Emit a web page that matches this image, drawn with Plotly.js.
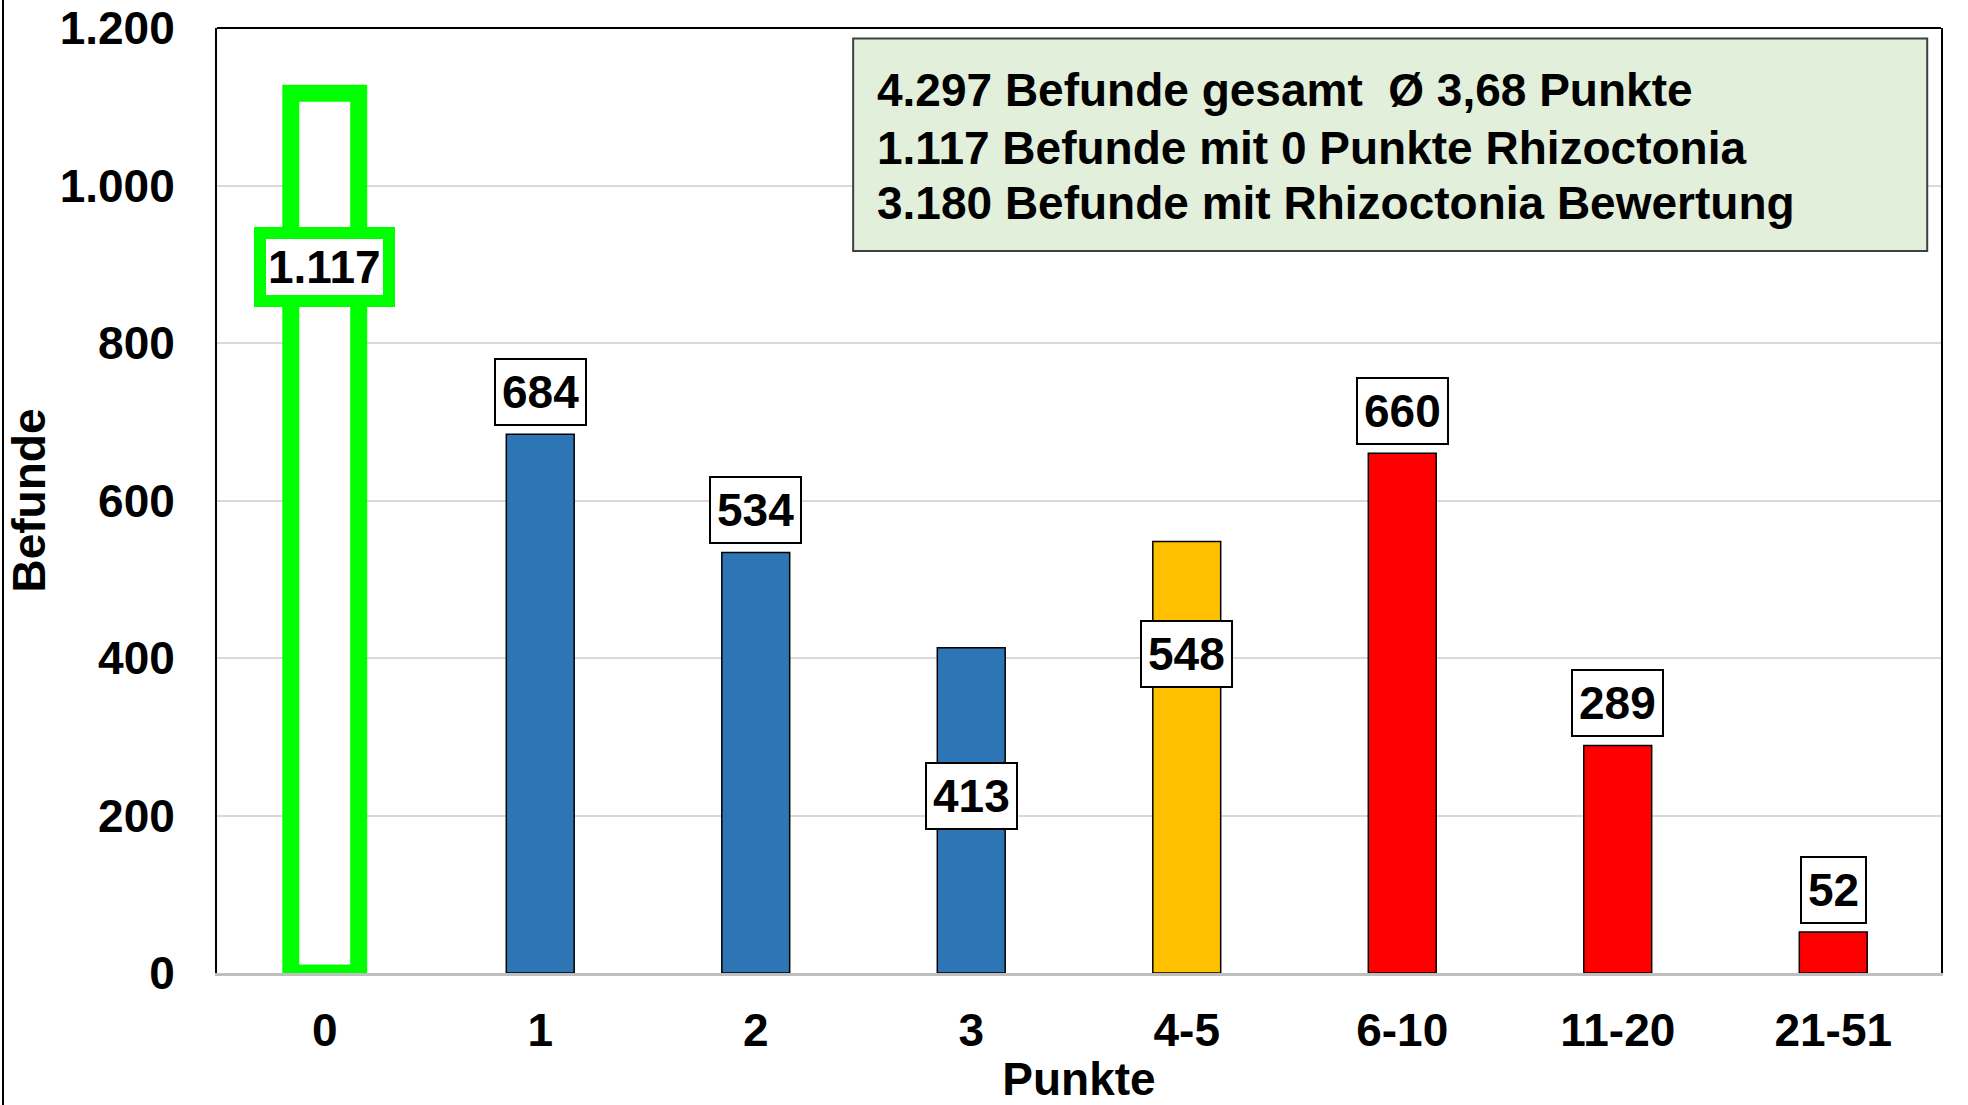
<!DOCTYPE html>
<html>
<head>
<meta charset="utf-8">
<script src="https://cdn.plot.ly/plotly-3.0.1.min.js"></script>
<style>
  html, body { margin: 0; padding: 0; background: #fff; }
  #wrap { position: relative; width: 1968px; height: 1105px; }
  #chart { width: 1968px; height: 1105px; }
  #edge { position: absolute; left: 2px; top: 0; width: 0; height: 1105px; border-left: 2px solid #000; }
</style>
</head>
<body>
<div id="wrap">
  <div id="chart"></div>
  <div id="edge"></div>
</div>
<script>
  // Rhizoctonia Befunde nach Punkten
  const categories = ["0", "1", "2", "3", "4-5", "6-10", "11-20", "21-51"];
  const befunde = [1117, 684, 534, 413, 548, 660, 289, 52];
  const barColors = ["#FFFFFF", "#2E75B6", "#2E75B6", "#2E75B6", "#FFC000", "#FF0000", "#FF0000", "#FF0000"];
  const infoLines = [
    "4.297 Befunde gesamt&nbsp;&nbsp;Ø 3,68 Punkte",
    "1.117 Befunde mit 0 Punkte Rhizoctonia",
    "3.180 Befunde mit Rhizoctonia Bewertung"
  ];

  const FONT = "Arial, 'Liberation Sans', sans-serif";
  const GREEN = "#00FF00";

  function fmt(v) {
    return String(v).replace(/\B(?=(\d{3})+(?!\d))/g, ".");
  }

  // labels Excel placed inside the bar (pixel shift of label centre from bar top)
  const insideShift = { 0: -174, 3: -148, 4: -113 };

  const trace = {
    type: "bar",
    x: categories,
    y: befunde,
    width: 0.315,
    cliponaxis: false,
    marker: {
      color: barColors,
      line: {
        color: categories.map((c, i) => (i === 0 ? GREEN : "#000000")),
        width: categories.map((c, i) => (i === 0 ? 17 : 1.5))
      }
    },
    hoverinfo: "x+y"
  };

  const labels = befunde.map((v, i) => {
    const inside = insideShift[i] !== undefined;
    const first = i === 0;
    return {
      x: categories[i],
      y: v,
      xref: "x",
      yref: "y",
      text: fmt(v),
      showarrow: false,
      yanchor: inside ? "middle" : "bottom",
      yshift: inside ? insideShift[i] : 8,
      bgcolor: "#FFFFFF",
      bordercolor: first ? GREEN : "#000000",
      borderwidth: first ? 12 : 2,
      borderpad: first ? 2 : 6,
      font: { family: FONT, size: 46, color: "#000", weight: "bold" }
    };
  });

  // one annotation per line so the line spacing follows the picture
  const infoY = [0.9344, 0.873, 0.8148];
  const infoText = infoLines.map((t, i) => ({
    xref: "paper",
    yref: "paper",
    x: 0.3817,
    y: infoY[i],
    xanchor: "left",
    yanchor: "middle",
    align: "left",
    showarrow: false,
    text: t,
    font: { family: FONT, size: 46, color: "#000", weight: "bold" }
  }));

  const layout = {
    width: 1968,
    height: 1105,
    margin: { l: 217, r: 27, t: 28, b: 132 },
    paper_bgcolor: "#FFFFFF",
    plot_bgcolor: "#FFFFFF",
    separators: ",.",
    showlegend: false,
    bargap: 0.685,
    font: { family: FONT, color: "#000" },
    xaxis: {
      type: "category",
      showline: true,
      linecolor: "#BFBFBF",
      linewidth: 3,
      ticks: "",
      ticklabelstandoff: 15,
      tickfont: { family: FONT, size: 46, color: "#000", weight: "bold" },
      title: {
        text: "Punkte",
        standoff: 0,
        font: { family: FONT, size: 46, color: "#000", weight: "bold" }
      }
    },
    yaxis: {
      range: [0, 1200],
      dtick: 200,
      tickformat: ",d",
      showgrid: true,
      gridcolor: "#D9D9D9",
      gridwidth: 2,
      zeroline: false,
      showline: true,
      linecolor: "#000000",
      linewidth: 2,
      mirror: true,
      ticks: "",
      ticklabelstandoff: 31,
      tickfont: { family: FONT, size: 46, color: "#000", weight: "bold" },
      title: {
        text: "Befunde",
        standoff: 0,
        font: { family: FONT, size: 46, color: "#000", weight: "bold" }
      }
    },
    shapes: [
      {
        type: "line",
        xref: "paper",
        yref: "paper",
        x0: 0, x1: 1, y0: 1, y1: 1,
        line: { color: "#000000", width: 2 }
      },
      {
        type: "rect",
        xref: "paper",
        yref: "paper",
        x0: 0.369, x1: 0.992, y0: 0.764, y1: 0.989,
        fillcolor: "#E2EFDA",
        line: { color: "#404040", width: 2 },
        layer: "above"
      }
    ],
    annotations: labels.concat(infoText)
  };

  Plotly.newPlot("chart", [trace], layout, { displayModeBar: false, staticPlot: true });
</script>
</body>
</html>
